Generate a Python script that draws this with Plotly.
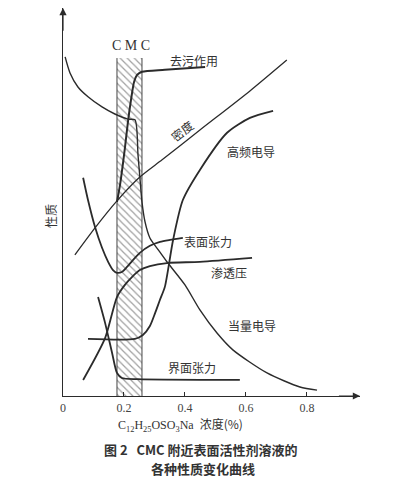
import plotly.graph_objects as go

# ---- data (concentration %, property in arbitrary units 0-100) ----
eq_cond_x = [0.007, 0.023, 0.049, 0.082, 0.128, 0.170, 0.213, 0.236, 0.246, 0.252, 0.259, 0.269,
             0.285, 0.318, 0.344, 0.400, 0.449, 0.505, 0.557, 0.669, 0.777, 0.833]
eq_cond_y = [86.7, 82.6, 79.0, 76.5, 73.9, 72.1, 70.8, 70.6, 61.6, 56.0, 49.6, 44.5,
             40.4, 36.8, 34.0, 28.4, 22.0, 16.1, 11.8, 5.9, 2.3, 1.5]

deterg_x = [0.177, 0.187, 0.203, 0.213, 0.223, 0.233, 0.243, 0.259, 0.334, 0.466]
deterg_y = [49.6, 54.0, 63.4, 70.1, 75.7, 80.3, 82.1, 82.9, 83.4, 84.1]

density_x = [0.039, 0.105, 0.177, 0.252, 0.325, 0.449, 0.613, 0.734]
density_y = [36.1, 43.0, 49.9, 56.0, 60.4, 68.0, 78.0, 85.9]

hf_cond_x = [0.082, 0.236, 0.262, 0.285, 0.302, 0.318, 0.334, 0.361, 0.393, 0.449, 0.538, 0.613, 0.689]
hf_cond_y = [14.6, 14.6, 15.6, 17.9, 21.2, 24.6, 27.9, 39.9, 50.1, 57.8, 67.3, 71.1, 72.9]

osm_x = [0.066, 0.138, 0.177, 0.203, 0.226, 0.252, 0.285, 0.341, 0.449, 0.620]
osm_y = [4.1, 14.8, 25.3, 28.4, 30.4, 32.2, 33.2, 34.0, 34.3, 35.3]

surf_x = [0.066, 0.082, 0.105, 0.128, 0.148, 0.164, 0.177, 0.193, 0.210, 0.230, 0.252,
          0.285, 0.318, 0.351, 0.393]
surf_y = [55.8, 50.1, 43.2, 37.9, 34.3, 32.2, 31.5, 31.7, 33.0, 34.8, 36.6,
          38.4, 39.4, 39.9, 40.4]

inter_x = [0.115, 0.138, 0.161, 0.177, 0.193, 0.246, 0.580]
inter_y = [25.3, 18.7, 11.0, 5.9, 4.6, 4.3, 4.1]

cmc_low = 0.177
cmc_high = 0.259
cmc_top = 86.4

x_ticks = [0, 0.2, 0.4, 0.6, 0.8]
x_ticktext = ["0", "0.2", "0.4", "0.6", "0.8"]

X_MAX = 0.974
Y_MAX = 99.2

INK = "#2b2b2b"
CJK = "Noto Sans CJK SC"
SERIF = "Liberation Serif"

fig = go.Figure()

# CMC hatched band
fig.add_trace(go.Bar(
    x=[(cmc_low + cmc_high) / 2], y=[cmc_top], width=[cmc_high - cmc_low],
    marker=dict(color="white", line=dict(width=0),
                pattern=dict(shape="\\", fgcolor="#444", bgcolor="white", size=5, solidity=0.25)),
    hoverinfo="skip", showlegend=False))
for xv in (cmc_low, cmc_high):
    fig.add_trace(go.Scatter(x=[xv, xv], y=[0, cmc_top], mode="lines",
                             line=dict(color="#444", width=1), hoverinfo="skip", showlegend=False))

def curve(x, y, w=1.6, shape="spline"):
    fig.add_trace(go.Scatter(x=x, y=y, mode="lines",
                             line=dict(color=INK, width=w, shape=shape, smoothing=0.7),
                             hoverinfo="skip", showlegend=False))

curve(eq_cond_x, eq_cond_y, 1.4)
curve(deterg_x, deterg_y, 2.0)
curve(density_x, density_y, 1.3)
curve(hf_cond_x, hf_cond_y, 1.8)
curve(osm_x, osm_y, 1.8)
curve(surf_x, surf_y, 1.8)
curve(inter_x, inter_y, 1.8)

labels = [
    ("去污作用", 0.430, 85.9, 0),
    ("密度", 0.390, 67.8, -38),
    ("高频电导", 0.616, 62.4, 0),
    ("表面张力", 0.475, 39.6, 0),
    ("渗透压", 0.544, 31.7, 0),
    ("当量电导", 0.620, 17.9, 0),
    ("界面张力", 0.423, 7.4, 0),
]
for t, xx, yy, ang in labels:
    fig.add_annotation(x=xx, y=yy, text=t, showarrow=False, textangle=ang,
                       xanchor="center", yanchor="middle",
                       font=dict(family=CJK, size=12, color="#333"))

fig.add_annotation(x=0.222, y=89.6, text="C M C", showarrow=False,
                   xanchor="center", yanchor="middle",
                   font=dict(family=SERIF, size=14, color="#333"))

# axis arrows
fig.add_annotation(x=X_MAX, y=0, ax=0.90, ay=0, xref="x", yref="y", axref="x", ayref="y",
                   text="", showarrow=True, arrowhead=2, arrowsize=1.2, arrowwidth=1.2, arrowcolor=INK)
fig.add_annotation(x=0, y=Y_MAX, ax=0, ay=93, xref="x", yref="y", axref="x", ayref="y",
                   text="", showarrow=True, arrowhead=2, arrowsize=1.2, arrowwidth=1.2, arrowcolor=INK)

# y title
fig.add_annotation(x=-0.044, y=46, xref="paper", yref="y", text="性质", showarrow=False,
                   xanchor="center", yanchor="middle",
                   textangle=-90, font=dict(family=CJK, size=12, color="#333"))
# x title
fig.add_annotation(x=0.394, y=-0.073, xref="paper", yref="paper",
                   xanchor="center", yanchor="middle",
                   text="C<sub>12</sub>H<sub>25</sub>OSO<sub>3</sub>Na  <span style='font-family:Noto Sans CJK SC'>浓度(%)</span>",
                   showarrow=False, font=dict(family=SERIF, size=12, color="#333"))
# caption
fig.add_annotation(x=0.465, y=-0.139, xref="paper", yref="paper",
                   xanchor="center", yanchor="middle",
                   text="<b>图 2   CMC 附近表面活性剂溶液的</b>", showarrow=False,
                   font=dict(family=CJK, size=13, color="#333"))
fig.add_annotation(x=0.471, y=-0.186, xref="paper", yref="paper",
                   xanchor="center", yanchor="middle",
                   text="<b>各种性质变化曲线</b>", showarrow=False,
                   font=dict(family=CJK, size=13, color="#333"))

fig.update_layout(
    width=392, height=473,
    margin=dict(l=55, r=40, t=0, b=85),
    paper_bgcolor="white", plot_bgcolor="white",
    showlegend=False, bargap=0,
    xaxis=dict(range=[0, X_MAX], showgrid=False, zeroline=False, showline=True,
               linecolor=INK, linewidth=1.2, tickvals=x_ticks, ticktext=x_ticktext,
               ticks="inside", ticklen=4, tickcolor=INK,
               tickfont=dict(family=SERIF, size=12, color="#444")),
    yaxis=dict(range=[0, Y_MAX], showgrid=False, zeroline=False, showline=True,
               linecolor=INK, linewidth=1.2, showticklabels=False, ticks=""),
)

fig.write_html("out.html")
